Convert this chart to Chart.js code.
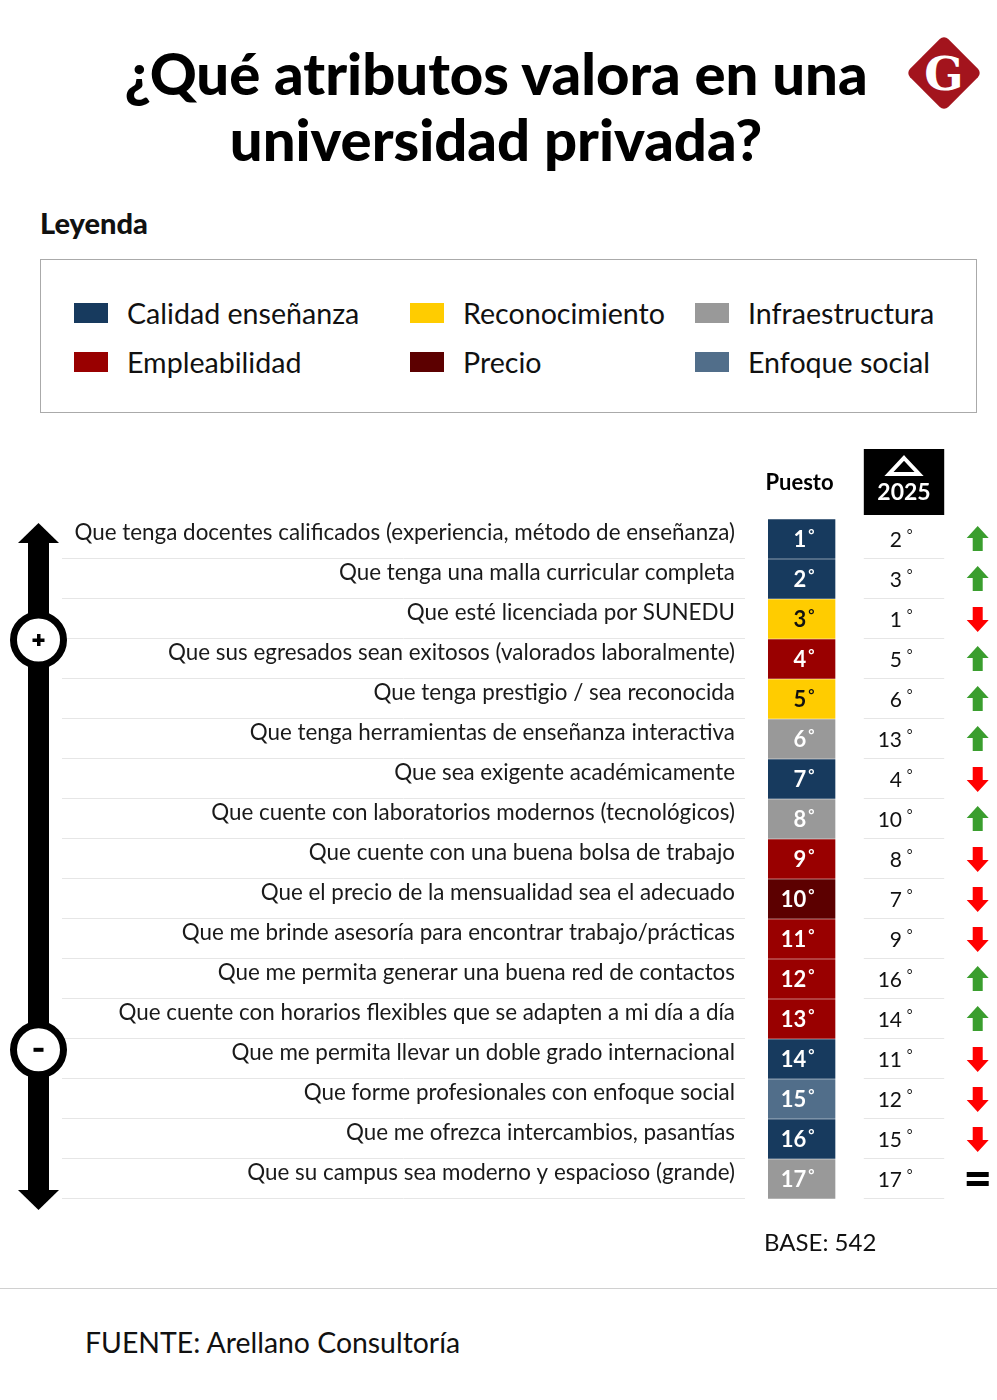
<!DOCTYPE html>
<html lang="es">
<head>
<meta charset="utf-8">
<script src="https://cdn.jsdelivr.net/npm/chart.js@4.4.1/dist/chart.umd.min.js"></script>
<style>
  html, body { margin: 0; padding: 0; background: #fff; }
  body { width: 997px; height: 1400px; position: relative; overflow: hidden; font-family: 'Lato', sans-serif; color: #111; }
  .titulo { position: absolute; left: 0; width: 992px; text-align: center; font-weight: 900; font-size: 58px; line-height: 66px; color: #000; }
  .logo { position: absolute; left: 917px; top: 46px; width: 54px; height: 54px; background: #a3141d; border-radius: 6px; transform: rotate(45deg); }
  .logo-g { position: absolute; left: 906px; top: 36px; width: 76px; height: 76px; line-height: 76px; text-align: center; color: #fff; font-family: 'DejaVu Serif', serif; font-weight: bold; font-size: 46px; }
  .leyenda-tit { position: absolute; left: 40px; top: 205px; font-weight: 900; font-size: 29px; }
  .leyenda { position: absolute; left: 40px; top: 259px; width: 935px; height: 152px; border: 1px solid #aaa; }
  .item { position: absolute; font-size: 28.6px; line-height: 34px; }
  .item i { position: absolute; left: 0; top: 7px; width: 34px; height: 20px; }
  .item span { position: absolute; left: 53px; white-space: nowrap; }
  #tabla { position: absolute; left: 0; top: 440px; }
  .base { position: absolute; left: 764px; top: 1227px; font-size: 24px; }
  .linea { position: absolute; left: 0; top: 1288px; width: 997px; height: 1px; background: #d0d0d0; }
  .fuente { position: absolute; left: 85px; top: 1325px; font-size: 28.4px; }
</style>
</head>
<body>
<div class="titulo" style="top:40px">¿Qué atributos valora en una</div>
<div class="titulo" style="top:106px">universidad privada?</div>
<div class="logo"></div>
<div class="logo-g">G</div>

<div class="leyenda-tit">Leyenda</div>
<div class="leyenda" id="leyenda"></div>

<canvas id="tabla" width="997" height="790"></canvas>

<div class="base">BASE: 542</div>
<div class="linea"></div>
<div class="fuente">FUENTE: Arellano Consultoría</div>

<script>
const grupos = ['Calidad enseñanza', 'Empleabilidad', 'Reconocimiento', 'Precio', 'Infraestructura', 'Enfoque social'];
const coloresGrupo = ['#173a5e', '#990000', '#ffcc00', '#5c0000', '#999999', '#516e8a'];

const atributos = [
    'Que tenga docentes calificados (experiencia, método de enseñanza)',
    'Que tenga una malla curricular completa',
    'Que esté licenciada por SUNEDU',
    'Que sus egresados sean exitosos (valorados laboralmente)',
    'Que tenga prestigio / sea reconocida',
    'Que tenga herramientas de enseñanza interactiva',
    'Que sea exigente académicamente',
    'Que cuente con laboratorios modernos (tecnológicos)',
    'Que cuente con una buena bolsa de trabajo',
    'Que el precio de la mensualidad sea el adecuado',
    'Que me brinde asesoría para encontrar trabajo/prácticas',
    'Que me permita generar una buena red de contactos',
    'Que cuente con horarios flexibles que se adapten a mi día a día',
    'Que me permita llevar un doble grado internacional',
    'Que forme profesionales con enfoque social',
    'Que me ofrezca intercambios, pasantías',
    'Que su campus sea moderno y espacioso (grande)'
];
const puesto = [1, 2, 3, 4, 5, 6, 7, 8, 9, 10, 11, 12, 13, 14, 15, 16, 17];
const puesto2025 = [2, 3, 1, 5, 6, 13, 4, 10, 8, 7, 9, 16, 14, 11, 12, 15, 17];
const grupoAtributo = [
    'Calidad enseñanza', 'Calidad enseñanza', 'Reconocimiento', 'Empleabilidad',
    'Reconocimiento', 'Infraestructura', 'Calidad enseñanza', 'Infraestructura',
    'Empleabilidad', 'Precio', 'Empleabilidad', 'Empleabilidad', 'Empleabilidad',
    'Calidad enseñanza', 'Enfoque social', 'Calidad enseñanza', 'Infraestructura'
];
const celda = atributos.map(() => 1); // cada fila es una celda de ancho fijo

// leyenda
const leyenda = document.getElementById('leyenda');
const posLeyenda = [[33, 36], [33, 85], [369, 36], [369, 85], [654, 36], [654, 85]];
const ordenLeyenda = ['Calidad enseñanza', 'Empleabilidad', 'Reconocimiento', 'Precio', 'Infraestructura', 'Enfoque social'];
ordenLeyenda.forEach((g, i) => {
    let el = document.createElement('div');
    el.className = 'item';
    el.style.left = posLeyenda[i][0] + 'px';
    el.style.top = posLeyenda[i][1] + 'px';
    el.innerHTML = `<i style="background:${coloresGrupo[grupos.indexOf(g)]}"></i><span>${g}</span>`;
    leyenda.appendChild(el);
});

function flecha(ctx, cx, cy, sube) {
    ctx.save();
    ctx.fillStyle = sube ? '#3a9e2e' : '#ff0000';
    ctx.beginPath();
    if (sube) {
        ctx.moveTo(cx, cy - 13);
        ctx.lineTo(cx + 11, cy - 1);
        ctx.lineTo(cx + 5, cy - 1);
        ctx.lineTo(cx + 5, cy + 12);
        ctx.lineTo(cx - 5, cy + 12);
        ctx.lineTo(cx - 5, cy - 1);
        ctx.lineTo(cx - 11, cy - 1);
    } else {
        ctx.moveTo(cx, cy + 13);
        ctx.lineTo(cx + 11, cy + 1);
        ctx.lineTo(cx + 5, cy + 1);
        ctx.lineTo(cx + 5, cy - 12);
        ctx.lineTo(cx - 5, cy - 12);
        ctx.lineTo(cx - 5, cy + 1);
        ctx.lineTo(cx - 11, cy + 1);
    }
    ctx.closePath();
    ctx.fill();
    ctx.restore();
}

const tablaPlugin = {
    id: 'tabla',
    beforeDatasetsDraw(chart) {
        const { ctx, chartArea, scales: { x, y } } = chart;
        const x0 = x.getPixelForValue(0);
        const w = x.getPixelForValue(1) - x0;
        ctx.save();
        // separadores
        ctx.strokeStyle = '#e6e6e6';
        ctx.lineWidth = 1;
        atributos.forEach((a, i) => {
            const yb = Math.round(y.getPixelForValue(i) + 20) - 0.5;
            ctx.beginPath();
            ctx.moveTo(62, yb);
            ctx.lineTo(x0 - 23, yb);
            ctx.moveTo(x0 + w * 1.43, yb);
            ctx.lineTo(x0 + w * 2.63, yb);
            ctx.stroke();
        });
        // cabecera
        ctx.fillStyle = '#000';
        ctx.font = 'bold 22px Lato';
        ctx.textAlign = 'center';
        ctx.textBaseline = 'middle';
        ctx.fillText('Puesto', x0 + w * 0.47, chartArea.top - 36);
        ctx.fillRect(x0 + w * 1.43, chartArea.top - 70, w * 1.2, 66);
        const cxh = x0 + w * 2.03;
        ctx.strokeStyle = '#fff';
        ctx.lineWidth = 4;
        ctx.lineJoin = 'miter';
        ctx.beginPath();
        ctx.moveTo(cxh, chartArea.top - 61);
        ctx.lineTo(cxh + 15, chartArea.top - 45);
        ctx.lineTo(cxh - 15, chartArea.top - 45);
        ctx.closePath();
        ctx.stroke();
        ctx.fillStyle = '#fff';
        ctx.font = 'bold 23px Lato';
        ctx.fillText('2025', cxh, chartArea.top - 26);
        // eje vertical de importancia
        const ax = 38.5;
        const top = chartArea.top + 4;
        const bot = chartArea.bottom + 11;
        ctx.fillStyle = '#000';
        ctx.fillRect(ax - 10.5, top + 18, 21, bot - top - 36);
        ctx.beginPath();
        ctx.moveTo(ax, top);
        ctx.lineTo(ax + 20.5, top + 20);
        ctx.lineTo(ax - 20.5, top + 20);
        ctx.closePath();
        ctx.fill();
        ctx.beginPath();
        ctx.moveTo(ax, bot);
        ctx.lineTo(ax + 20.5, bot - 20);
        ctx.lineTo(ax - 20.5, bot - 20);
        ctx.closePath();
        ctx.fill();
        const circulos = [[y.getPixelForValue(2.5) + 1, '+'], [y.getPixelForValue(12.77), '-']];
        circulos.forEach(([cy, s]) => {
            ctx.beginPath();
            ctx.arc(ax, cy, 25, 0, Math.PI * 2);
            ctx.fillStyle = '#fff';
            ctx.fill();
            ctx.lineWidth = 7;
            ctx.strokeStyle = '#000';
            ctx.stroke();
            ctx.fillStyle = '#000';
            if (s === '+') {
                ctx.fillRect(ax - 6, cy - 1.5, 12, 3.5);
                ctx.fillRect(ax - 1.5, cy - 6, 3.5, 12);
            } else {
                ctx.fillRect(ax - 5, cy - 2, 10, 4);
            }
        });
        ctx.restore();
    },
    afterDatasetsDraw(chart) {
        const { ctx, scales: { x, y } } = chart;
        const x0 = x.getPixelForValue(0);
        const w = x.getPixelForValue(1) - x0;
        ctx.save();
        ctx.textBaseline = 'middle';
        atributos.forEach((a, i) => {
            const cy = y.getPixelForValue(i) + 1;
            const g = grupoAtributo[i];
            // puesto actual
            ctx.fillStyle = g === 'Reconocimiento' ? '#111' : '#fff';
            ctx.font = 'bold 22px Lato';
            ctx.textAlign = 'right';
            ctx.fillText(String(puesto[i]), x0 + w * 0.57, cy);
            ctx.font = 'bold 15px Lato';
            ctx.textAlign = 'left';
            ctx.fillText('°', x0 + w * 0.6, cy - 5);
            // puesto 2025
            ctx.fillStyle = '#111';
            ctx.font = '21px Lato';
            ctx.textAlign = 'right';
            ctx.fillText(String(puesto2025[i]), x0 + w * 2.0, cy);
            ctx.font = '14px Lato';
            ctx.textAlign = 'left';
            ctx.fillText('°', x0 + w * 2.07, cy - 6);
            // variación
            const ax = x0 + w * 3.13;
            if (puesto[i] < puesto2025[i]) {
                flecha(ctx, ax, cy - 1, true);
            } else if (puesto[i] > puesto2025[i]) {
                flecha(ctx, ax, cy - 1, false);
            } else {
                ctx.fillStyle = '#000';
                ctx.fillRect(ax - 11, cy - 8, 22, 5);
                ctx.fillRect(ax - 11, cy + 1, 22, 5);
            }
        });
        ctx.restore();
    }
};

const ctx = document.getElementById('tabla').getContext('2d');
const chart = new Chart(ctx, {
    type: 'bar',
    data: {
        labels: atributos,
        datasets: [{
            data: celda,
            backgroundColor: grupoAtributo.map(g => coloresGrupo[grupos.indexOf(g)]),
            barThickness: 39,
            borderWidth: 0
        }]
    },
    options: {
        indexAxis: 'y',
        responsive: false,
        animation: false,
        events: [],
        layout: { padding: { top: 79, bottom: 31, left: 0, right: 0 } },
        plugins: {
            legend: { display: false },
            tooltip: { enabled: false }
        },
        scales: {
            x: { display: false, min: 0, max: 229 / 67 },
            y: {
                afterFit(scale) {
                    scale.width = 768;
                    scale.paddingTop = 0;
                    scale.paddingBottom = 0;
                },
                grid: { display: false },
                border: { display: false },
                ticks: {
                    padding: 25,
                    labelOffset: -6,
                    color: '#1a1a1a',
                    font: { family: 'Lato', size: 22.4 }
                }
            }
        }
    },
    plugins: [tablaPlugin]
});
</script>
</body>
</html>
